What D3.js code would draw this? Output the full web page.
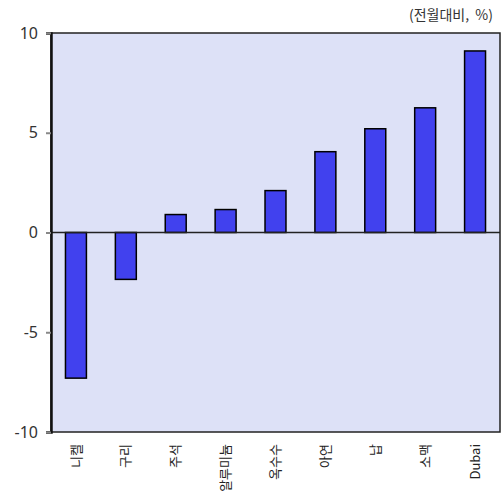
<!DOCTYPE html>
<html>
<head>
<meta charset="utf-8">
<script src="https://cdn.jsdelivr.net/npm/d3@7"></script>
<style>
  html, body { margin: 0; padding: 0; background: #fff; }
  svg { display: block; font-family: "Noto Sans CJK KR", "Noto Sans", sans-serif; }
</style>
</head>
<body>
<svg id="chart" width="502" height="498"></svg>
<script>
// Commodity price changes, month over month (%)
const categories = ["니켈", "구리", "주석", "알루미늄", "옥수수", "아연", "납", "소맥", "Dubai"];
const values = [-7.3, -2.35, 0.9, 1.15, 2.1, 4.05, 5.2, 6.25, 9.1];
const yTicks = [-10, -5, 0, 5, 10];
const unitLabel = "(전월대비,  %)";

const svg = d3.select("#chart");
const margin = { top: 33, right: 2, bottom: 66, left: 51 };
const width = 502 - margin.left - margin.right;
const height = 498 - margin.top - margin.bottom;

const g = svg.append("g").attr("transform", `translate(${margin.left},${margin.top})`);

const x = d3.scaleBand().domain(categories).range([0, width]).paddingInner(0.58).paddingOuter(0.29);
const y = d3.scaleLinear().domain([-10, 10]).range([height, 0]);

// plot background
g.append("rect")
  .attr("x", 0).attr("y", 0)
  .attr("width", width).attr("height", height)
  .attr("fill", "#dde1f7")
  .attr("stroke", "#222").attr("stroke-width", 1.5);

// bars
g.selectAll("rect.bar")
  .data(values)
  .join("rect")
  .attr("class", "bar")
  .attr("x", (d, i) => x(categories[i]))
  .attr("width", x.bandwidth())
  .attr("y", d => y(Math.max(0, d)))
  .attr("height", d => Math.abs(y(d) - y(0)))
  .attr("fill", "#4141ee")
  .attr("stroke", "#000").attr("stroke-width", 1.5);

// zero line
g.append("line")
  .attr("x1", 0).attr("x2", width)
  .attr("y1", y(0)).attr("y2", y(0))
  .attr("stroke", "#222").attr("stroke-width", 1.5);

// y axis
const yAxis = g.append("g")
  .call(d3.axisLeft(y).tickValues(yTicks).tickSize(5).tickPadding(8).tickFormat(d => String(d)));
yAxis.select(".domain").attr("stroke", "#111").attr("stroke-width", 2.5);
yAxis.selectAll(".tick line").attr("stroke", "#888").attr("stroke-width", 2);
yAxis.selectAll(".tick text")
  .attr("font-size", 16)
  .attr("fill", "#333")
  .attr("font-family", "'Noto Sans', sans-serif");

// category labels, rotated
g.append("g")
  .selectAll("text")
  .data(categories)
  .join("text")
  .attr("transform", d => `translate(${x(d) + x.bandwidth() / 2},${height + 12}) rotate(-90)`)
  .attr("text-anchor", "end")
  .attr("dy", "0.35em")
  .attr("font-size", 13)
  .attr("fill", "#222")
  .text(d => d);

// unit label
svg.append("text")
  .attr("x", 493).attr("y", 20)
  .attr("text-anchor", "end")
  .attr("font-size", 14)
  .attr("fill", "#333")
  .attr("xml:space", "preserve")
  .style("white-space", "pre")
  .text(unitLabel);
</script>
</body>
</html>
